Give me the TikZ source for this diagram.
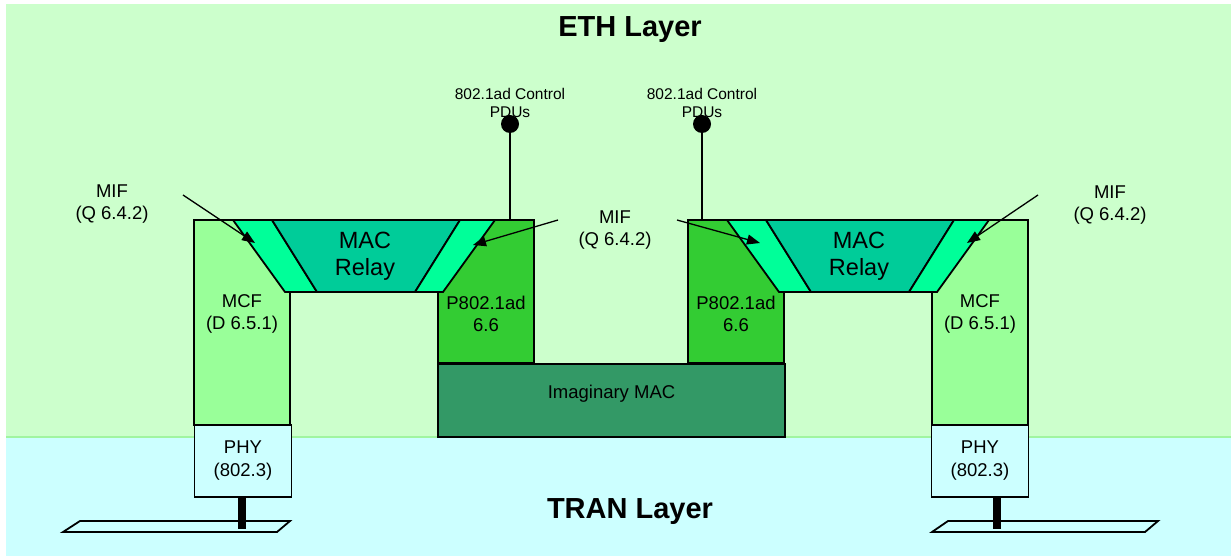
\documentclass[tikz,border=0pt]{standalone}
\usepackage{fontspec}
\setmainfont{Liberation Sans}
\usetikzlibrary{arrows.meta}

\definecolor{ethbg}{HTML}{CCFFCC}
\definecolor{tranbg}{HTML}{CCFFFF}
\definecolor{edgegreen}{HTML}{A0F5A0}
\definecolor{mcfgreen}{HTML}{99FF99}
\definecolor{mifgreen}{HTML}{00FF99}
\definecolor{relaygreen}{HTML}{00CC99}
\definecolor{adgreen}{HTML}{33CC33}
\definecolor{imacgreen}{HTML}{339966}

\tikzset{
	box/.style={draw, line width=1.8pt, inner sep=0pt},
	mcfbox/.style={box, fill=mcfgreen, minimum width=96pt, minimum height=205pt},
	adbox/.style={box, fill=adgreen, minimum width=96pt, minimum height=143pt},
	imacbox/.style={box, fill=imacgreen, minimum width=347pt, minimum height=73pt},
	phybox/.style={box, fill=tranbg, minimum width=97pt, minimum height=72pt, align=center, font=\fontsize{18.5}{23}\selectfont},
	txt/.style={align=center, inner sep=0pt, font=\fontsize{18.5}{22}\selectfont},
	pdutxt/.style={align=center, inner sep=0pt, font=\fontsize{15.5}{18}\selectfont},
	relaytxt/.style={align=center, inner sep=0pt, font=\fontsize{23.5}{27}\selectfont},
	layertxt/.style={anchor=base, inner sep=0pt, font=\fontsize{29}{34}\selectfont\bfseries},
	band/.style={draw, line width=1.8pt, fill=mifgreen},
	relay/.style={draw, line width=1.8pt, fill=relaygreen},
	ground/.style={draw, line width=1.8pt, fill=tranbg},
	pole/.style={line width=8pt},
	dot/.style={circle, fill=black, minimum size=18pt, inner sep=0pt},
	mifarrow/.style={line width=1.3pt, -{Triangle[length=13pt,width=10pt]}}
}

\begin{document}
\begin{tikzpicture}[x=1pt,y=-1pt]
		\useasboundingbox (0,0) rectangle (1231,556);
		% layers
		\fill[ethbg] (6,4) rectangle (1231,437);
		\fill[tranbg] (6,437) rectangle (1231,556);
		\draw[edgegreen, line width=2pt] (6,437) -- (1231,437);
		\node[layertxt] (eth) at (630,37) {ETH Layer};
		\node[layertxt] (tran) at (630,518) {TRAN Layer};
		
		% columns
		\node[mcfbox] (mcfL) at (242,322.5) {};
		\node[adbox] (adL) at (486,291.5) {};
		\node[adbox] (adR) at (736,291.5) {};
		\node[mcfbox] (mcfR) at (980,322.5) {};
		\node[imacbox] (imac) at (611.5,400.5) {};
		\node[txt] (imacT) at (611.5,394) {Imaginary MAC};
		\node[txt] (mcfLT) at (242,314) {MCF\\(D 6.5.1)};
		\node[txt] (mcfRT) at (980,314) {MCF\\(D 6.5.1)};
		\node[txt] (adLT) at (486,314) {P802.1ad\\6.6};
		\node[txt] (adRT) at (736,314) {P802.1ad\\6.6};
		
		% relays
		\draw[band] (233,220) -- (272,220) -- (317,292) -- (285,292) -- cycle;
		\draw[relay] (272,220) -- (460,220) -- (415,292) -- (317,292) -- cycle;
		\draw[band] (460,220) -- (495,220) -- (443,292) -- (415,292) -- cycle;
		\draw[band] (727,220) -- (766,220) -- (811,292) -- (779,292) -- cycle;
		\draw[relay] (766,220) -- (954,220) -- (909,292) -- (811,292) -- cycle;
		\draw[band] (954,220) -- (989,220) -- (937,292) -- (909,292) -- cycle;
		\node[relaytxt] (relayL) at (365,256.5) {MAC\\Relay};
		\node[relaytxt] (relayR) at (859,256.5) {MAC\\Relay};
		
		% PHY and ground
		\node[phybox] (phyL) at (243,461) {PHY\\(802.3)};
		\node[phybox] (phyR) at (980,461) {PHY\\(802.3)};
		\draw[ground] (80,521) -- (290,521) -- (277,532) -- (63,532) -- cycle;
		\draw[ground] (948,521) -- (1158,521) -- (1145,532) -- (932,532) -- cycle;
		\coordinate (gndL) at (242,529);
		\coordinate (gndR) at (997,529);
		\draw[pole] (gndL |- phyL.south) -- (gndL);
		\draw[pole] (gndR |- phyR.south) -- (gndR);
		
		% control PDUs
		\node[pdutxt] (pduL) at (510,103) {802.1ad Control\\PDUs};
		\node[pdutxt] (pduR) at (702,103) {802.1ad Control\\PDUs};
		\node[dot] (dotL) at (510,124) {};
		\node[dot] (dotR) at (702,124) {};
		\draw[line width=1.6pt] (dotL) -- (dotL |- adL.north);
		\draw[line width=1.6pt] (dotR) -- (dotR |- adR.north);
		
		% MIF pointers
		\node[txt] (mifL) at (112,204) {MIF\\(Q 6.4.2)};
		\node[txt] (mifM) at (615,230) {MIF\\(Q 6.4.2)};
		\node[txt] (mifR) at (1110,205) {MIF\\(Q 6.4.2)};
		\coordinate (aL0) at (183,195);
		\coordinate (aL1) at (255,243);
		\coordinate (aM0) at (558,220);
		\coordinate (aM1) at (473,245);
		\coordinate (aN0) at (677,220);
		\coordinate (aN1) at (760,243);
		\coordinate (aR0) at (1038,195);
		\coordinate (aR1) at (967,243);
		\draw[mifarrow] (aL0) -- (aL1);
		\draw[mifarrow] (aM0) -- (aM1);
		\draw[mifarrow] (aN0) -- (aN1);
		\draw[mifarrow] (aR0) -- (aR1);
		
\end{tikzpicture}
\end{document}
